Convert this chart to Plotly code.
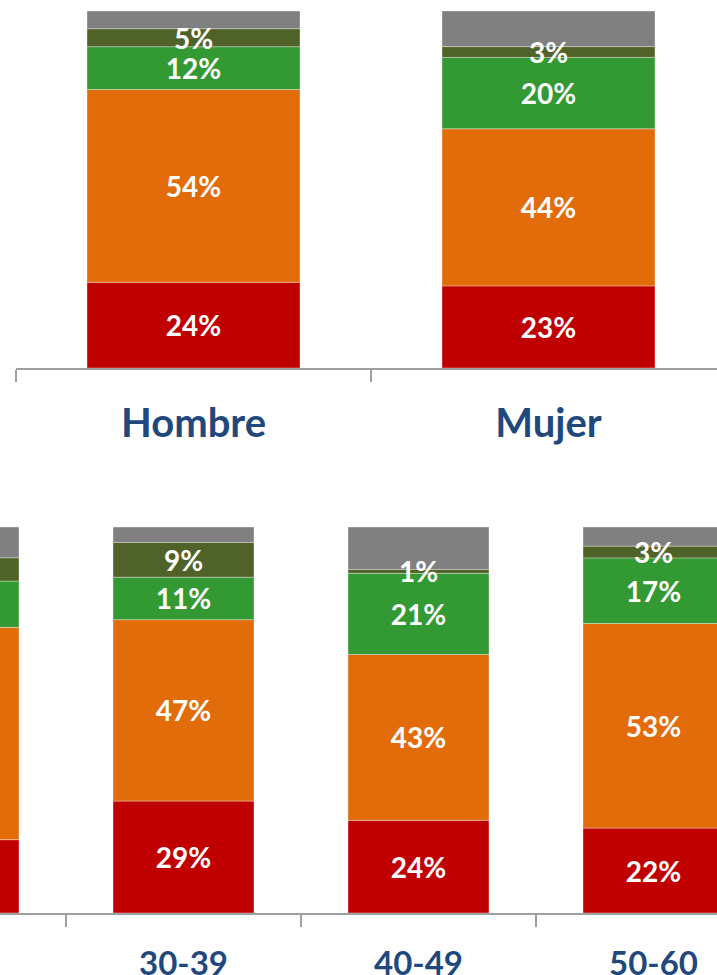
import plotly.graph_objects as go

# Survey response shares (%) by sex and by age group
sex_groups = ["Hombre", "Mujer"]
age_groups = ["18-29", "30-39", "40-49", "50-60"]

sex_red = [24, 23]
sex_orange = [54, 44]
sex_green = [12, 20]
sex_olive = [5, 3]
sex_gray = [5, 10]

age_red = [19, 29, 24, 22]
age_orange = [55, 47, 43, 53]
age_green = [12, 11, 21, 17]
age_olive = [6, 9, 1, 3]
age_gray = [8, 4, 11, 5]

# the first age group sits mostly outside the visible window: no labels
age_labeled = [False, True, True, True]
sex_labeled = [True, True]

colors = {
    "red": "#C00000",
    "orange": "#E36C0A",
    "green": "#339933",
    "olive": "#4F6228",
    "gray": "#808080",
}
label_blue = "#1F497D"
axis_gray = "#A0A0A0"

fig = go.Figure()


def add_stack(cats, series, show, xa, ya):
    """Stack segments bottom-up with explicit bases; the unlabeled gray
    cap is drawn first so overflowing labels stay on top of it."""
    names = ["red", "orange", "green", "olive", "gray"]
    bases = []
    running = [0] * len(cats)
    for vals in series:
        bases.append(list(running))
        running = [r + v for r, v in zip(running, vals)]
    order = [4, 0, 1, 2, 3]
    for i in order:
        vals = series[i]
        labeled = names[i] != "gray"
        fig.add_trace(go.Bar(
            x=cats, y=vals, base=bases[i],
            xaxis=xa, yaxis=ya, width=0.6,
            marker=dict(color=colors[names[i]],
                        line=dict(color="rgba(255,255,255,0.35)", width=1)),
            text=[f"{v}%" if s else "" for v, s in zip(vals, show)] if labeled else None,
            textposition="inside" if labeled else "none",
            insidetextanchor="middle",
            textangle=0,
            textfont=dict(family="Lato", size=28, color="white", weight="bold"),
            showlegend=False, hoverinfo="skip",
        ))


add_stack(sex_groups, [sex_red, sex_orange, sex_green, sex_olive, sex_gray],
          sex_labeled, "x", "y")
add_stack(age_groups, [age_red, age_orange, age_green, age_olive, age_gray],
          age_labeled, "x2", "y2")

H = 975.0
W = 717.0

xaxis_common = dict(
    type="category",
    showline=True, linecolor=axis_gray, linewidth=2,
    ticks="outside", tickson="boundaries", ticklen=12,
    tickcolor=axis_gray, tickwidth=2,
    showgrid=False, zeroline=False,
    automargin=False,
)

fig.update_layout(
    width=717, height=975,
    margin=dict(l=0, r=0, t=0, b=0),
    paper_bgcolor="white", plot_bgcolor="white",
    barmode="overlay",
    uniformtext=dict(minsize=28, mode="show"),
    xaxis=dict(
        **xaxis_common,
        domain=[16 / W, 1],
        range=[-0.5, -0.5 + 701 / 355],
        tickfont=dict(family="Lato", size=40, color=label_blue, weight="bold"),
        ticklabelstandoff=19,
        anchor="y",
    ),
    yaxis=dict(
        domain=[(H - 368) / H, (H - 11) / H],
        range=[0, 100], visible=False, anchor="x", automargin=False,
    ),
    xaxis2=dict(
        **xaxis_common,
        domain=[0, 1],
        range=[0.5 - 66 / 235, 0.5 - 66 / 235 + 717 / 235],
        tickfont=dict(family="Lato", size=33, color=label_blue, weight="bold"),
        ticklabelstandoff=20,
        anchor="y2",
    ),
    yaxis2=dict(
        domain=[(H - 913) / H, (H - 527) / H],
        range=[0, 100], visible=False, anchor="x2", automargin=False,
    ),
)

fig.write_html("out.html")
